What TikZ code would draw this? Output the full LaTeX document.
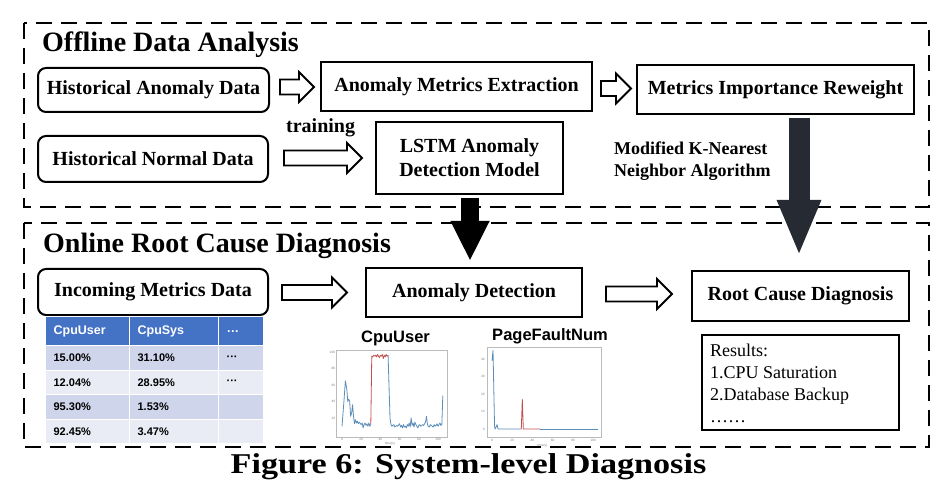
\documentclass[tikz,border=0pt]{standalone}
\usepackage{fontspec}
\setmainfont{Liberation Serif}
\newfontfamily\sansf{Liberation Sans}
\usetikzlibrary{arrows.meta,calc}
\definecolor{hdrblue}{HTML}{4472C4}
\definecolor{rowA}{HTML}{CFD5EA}
\definecolor{rowB}{HTML}{E9EBF5}
\definecolor{darkarr}{HTML}{262A33}
\definecolor{plotblue}{HTML}{5B8DB8}
\definecolor{plotred}{HTML}{C0504D}
\definecolor{framegray}{HTML}{BBBBBB}
\tikzset{
  dashbox/.style={draw, line width=2.8, dash pattern=on 16 off 9},
  rbox/.style={draw, line width=2, rounded corners=8, inner sep=0, font=\bfseries\fontsize{20}{24}\selectfont},
  sbox/.style={draw, line width=2, inner sep=0, font=\bfseries\fontsize{20}{24}\selectfont},
  heading/.style={anchor=base west, inner sep=0, font=\bfseries\fontsize{28}{32}\selectfont},
  hollow/.style={draw, line width=1.8, fill=white, line join=miter,
    to path={let \p1=(\tikztostart), \p2=(\tikztotarget) in
      (\x1,\y1+7.5pt) -- (\x2-15pt,\y1+7.5pt) -- (\x2-15pt,\y1+15pt) -- (\x2,\y1)
      -- (\x2-15pt,\y1-15pt) -- (\x2-15pt,\y1-7.5pt) -- (\x1,\y1-7.5pt) -- cycle}},
  cell/.style={anchor=north west, draw=white, line width=1.2, inner xsep=8, inner ysep=0,
    align=left, font=\sansf\bfseries\fontsize{11}{12}\selectfont},
  tick/.style={inner sep=0, text=gray, font=\sansf\fontsize{3.2}{3.5}\selectfont},
  plotline/.style={line width=0.8, line join=round},
  charttitle/.style={anchor=base, inner sep=0, font=\sansf\bfseries\fontsize{16.5}{18}\selectfont},
}
\begin{document}
\begin{tikzpicture}[x=1pt,y=-1pt]
\useasboundingbox (0,0) rectangle (952,502);

% dashed section frames
\draw[dashbox] (24,23) rectangle (929,207);
\draw[dashbox] (24,223) rectangle (929,447);

% headings
\node[heading] (h1) at (42,52) {Offline Data Analysis};
\node[heading] (h2) at (43,253) {Online Root Cause Diagnosis};

% offline boxes
\node[rbox, minimum width=231, minimum height=44] (hanom) at (153.5,90) {Historical Anomaly Data};
\node[rbox, minimum width=230, minimum height=46] (hnorm) at (153,159) {Historical Normal Data};
\node[sbox, minimum width=271, minimum height=49] (ame) at (456.5,86.5) {Anomaly Metrics Extraction};
\node[sbox, minimum width=277, minimum height=49] (mir) at (775.5,89.5) {Metrics Importance Reweight};
\node[sbox, minimum width=187, minimum height=72, align=center] (lstm) at (469.5,158) {LSTM Anomaly\\Detection Model};

\node[anchor=base west, inner sep=0, font=\bfseries\fontsize{20}{24}\selectfont] (train) at (286,133) {training};
\node[anchor=base west, inner sep=0, font=\bfseries\fontsize{18}{22}\selectfont] (knn1) at (614,155) {Modified K-Nearest};
\node[anchor=base west, inner sep=0, font=\bfseries\fontsize{18}{22}\selectfont] (knn2) at (614,177) {Neighbor Algorithm};

% online boxes
\node[rbox, minimum width=230, minimum height=46] (incoming) at (153,292) {Incoming Metrics Data};
\node[sbox, minimum width=216, minimum height=49] (detect) at (474,292.5) {Anomaly Detection};
\node[sbox, minimum width=217, minimum height=50] (rcd) at (800.5,296) {Root Cause Diagnosis};
\node[draw, line width=2, minimum width=197, minimum height=95, inner sep=0] (results) at (800.5,382.5) {};
\node[anchor=north west, inner sep=0, align=left, font=\fontsize{18}{22}\selectfont] (restext) at (710,343.5)
  {Results:\\1.CPU Saturation\\2.Database Backup\\……};

% hollow arrows
\draw[hollow] ($(hanom.east)+(10,-3)$) to ($(ame.west)+(-6,0)$);
\draw[hollow] ($(ame.east)+(8,2)$) to ($(mir.west)+(-5,0)$);
\draw[hollow] ($(hnorm.east)+(15,-1)$) to ($(lstm.west)+(-13,0)$);
\draw[hollow] ($(incoming.east)+(13,0.5)$) to ($(detect.west)+(-18,0)$);
\draw[hollow] ($(detect.east)+(23,1.5)$) to ($(rcd.west)+(-19,0)$);

% big arrows
\draw[line width=18, black, -{Triangle[length=40, width=36]}]
  ($(lstm.south)+(0.5,3)$) -- ($(lstm.south |- detect.north)+(0.5,-6)$);
\draw[line width=21, darkarr, -{Triangle[length=56, width=40]}]
  ($(mir.south -| rcd.north)+(-1.5,3)$) -- ($(rcd.north)+(-1.5,-14)$);

% table
\node[cell, fill=hdrblue, text=white, minimum height=29, text width=68, font=\sansf\bfseries\fontsize{12.5}{14}\selectfont] (t01) at (45,316) {CpuUser};
\node[cell, fill=hdrblue, text=white, minimum height=29, text width=73, font=\sansf\bfseries\fontsize{12.5}{14}\selectfont] (t02) at (129,316) {CpuSys};
\node[cell, fill=hdrblue, text=white, minimum height=29, text width=29, font=\sansf\bfseries\fontsize{12.5}{14}\selectfont] (t03) at (218,316) {…};
\foreach \r/\y/\f/\a/\b/\c in {1/345/rowA/15.00\%/31.10\%/···, 2/369.5/rowB/12.04\%/28.95\%/···, 3/394/rowA/95.30\%/1.53\%/{}, 4/418.5/rowB/92.45\%/3.47\%/{}}{
  \node[cell, fill=\f, minimum height=24.5, text width=68] (t\r1) at (45,\y) {\a};
  \node[cell, fill=\f, minimum height=24.5, text width=73] (t\r2) at (129,\y) {\b};
  \node[cell, fill=\f, minimum height=24.5, text width=29] (t\r3) at (218,\y) {\c};
}

% CpuUser chart
\node[charttitle] (ct1) at (395.5,342) {CpuUser};
\draw[framegray, line width=0.5] (336,350) rectangle (447,437);
\begin{scope}[shift={(342,434.5)}, xscale=0.96, yscale=-0.825]
  \foreach \v in {20,40,60,80,100} \node[tick, anchor=east, name=cuy\v] at (-7,\v) {\v};
  \foreach \v in {0,20,40,60,80,100} \node[tick, anchor=north, name=cux\v] at (\v,-4) {\v};
  \node[tick, anchor=north, name=cuxl] at (50,-9) {time(s)};
  \draw[plotline, plotblue] (0,10) -- (2,40) -- (3.5,65) -- (5,55) -- (6,40) -- (7,43) -- (8,40) -- (9,22) -- (10,26) -- (11,36) -- (12,22) -- (13,13) -- (14,18) -- (15,14) -- (16,16) -- (17,13) -- (18,15) -- (20,12) -- (21,14) -- (22,8) -- (23,12) -- (24,14) -- (25,11) -- (26,13) -- (27,10) -- (28,14) -- (29,10) -- (30,12);
  \draw[plotline, plotred] (30,12) -- (31,95) -- (32,94) -- (33,96) -- (34,95) -- (35,96) -- (36,94) -- (37,97) -- (38,95) -- (39,93) -- (40,96) -- (41,95) -- (42,97) -- (43,92) -- (44,96) -- (45,94) -- (46,97) -- (47,95) -- (48,96);
  \draw[plotline, plotblue] (48,96) -- (50,20) -- (51,12) -- (52,10) -- (54,12) -- (55,9) -- (57,11) -- (58,10) -- (60,13) -- (61,9) -- (62,11) -- (63,8) -- (64,12) -- (65,9) -- (66,10) -- (67,8) -- (68,12) -- (69,10) -- (70,14) -- (71,9) -- (72,20) -- (73,11) -- (74,14) -- (75,9) -- (76,15) -- (77,12) -- (78,10) -- (79,8) -- (80,11) -- (81,12) -- (82,10) -- (84,12) -- (85,11) -- (86,13) -- (87,15) -- (88,22) -- (89,12) -- (90,10) -- (91,9) -- (92,12) -- (93,11) -- (94,10) -- (95,9) -- (96,12) -- (97,10) -- (98,11) -- (99,13) -- (100,10) -- (101,12) -- (102,14) -- (103,11) -- (104,12) -- (105,47);
\end{scope}

% PageFaultNum chart
\node[charttitle] (ct2) at (550,340) {PageFaultNum};
\draw[framegray, line width=0.5] (487,347) rectangle (601,437);
\begin{scope}[shift={(492,429)}, xscale=1.01, yscale=-1.75]
  \foreach \v in {0,10,20,30,40} \node[tick, anchor=east, name=pfy\v] at (-7,\v) {\v};
  \foreach \v in {0,20,40,60,80,100} \node[tick, anchor=north, name=pfx\v] at (\v,-5.5) {\v};
  \node[tick, anchor=north, name=pfxl] at (50,-8.5) {time(s)};
  \draw[plotline, plotblue] (0,39) -- (1,45) -- (2.5,2) -- (3,0) -- (4,1) -- (5,2.5) -- (6,0) -- (29,0);
  \draw[plotline, plotred] (29,0) -- (30,17) -- (31,0) -- (48,0);
  \draw[plotline, plotblue] (48,0) -- (105,0);
\end{scope}

% caption
\node[anchor=base, inner sep=0, font=\bfseries\fontsize{28.7}{32}\selectfont] (caption) at (468.5,473)
  {\scalebox{1.19}[1]{Figure 6: System-level Diagnosis}};
\end{tikzpicture}
\end{document}
